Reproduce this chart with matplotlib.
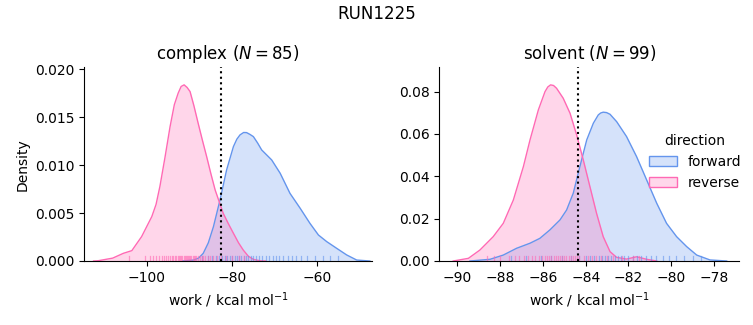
import numpy as np
import matplotlib
matplotlib.use("Agg")
import matplotlib.pyplot as plt
from matplotlib.patches import Patch

# ---- data ----
# complex panel, KDE curves (x in kcal/mol, density)
cx_rev_x = [-112.5, -111.4, -108.0, -105.5, -103.5, -101.2, -98.8, -97.8, -96.9, -95.7, -94.5, -93.5,
            -92.6, -91.9, -91.2, -90.5, -89.8, -88.9, -87.9, -86.9, -85.9, -84.9, -83.9, -82.0,
            -80.8, -79.6, -78.4, -77.3, -76.1, -74.9, -73.3, -72.0]
cx_rev_y = [0.0, 0.00003, 0.0003, 0.0008, 0.00108, 0.00254, 0.00463, 0.0059, 0.00776, 0.0108, 0.01402, 0.0163,
            0.0175, 0.0182, 0.01837, 0.0181, 0.01767, 0.0162, 0.01437, 0.0126, 0.01089, 0.0091, 0.00741, 0.00497,
            0.0039, 0.00289, 0.0019, 0.00115, 0.0005, 0.00017, 0.00002, 0.0]
cx_fwd_x = [-91.5, -89.0, -87.8, -86.7, -85.5, -84.3, -82.75, -81.2, -79.6, -78.8, -78.05, -77.2, -76.5,
            -75.7, -74.9, -73.9, -72.95, -70.6, -68.6, -66.3, -63.9, -61.6, -59.6, -57.65, -55.3,
            -52.95, -50.6, -47.5]
cx_fwd_y = [0.0, 0.0001, 0.0003, 0.0008, 0.0019, 0.00358, 0.00637, 0.0095, 0.01193, 0.0127, 0.01315, 0.0134, 0.01339,
            0.0132, 0.01297, 0.0123, 0.01158, 0.01054, 0.00915, 0.00706, 0.0055, 0.00393, 0.00271,
            0.00202, 0.00132, 0.00063, 0.0001, 0.0]
# solvent panel
sv_rev_x = [-90.19, -89.48, -88.94, -88.32, -87.85, -87.38, -86.91, -86.60, -86.21, -85.90, -85.77, -85.64,
            -85.50, -85.36, -85.05, -84.73, -84.42, -84.11, -83.80, -83.49, -83.18, -82.86, -82.55, -82.09,
            -81.62, -81.15, -80.68]
sv_rev_y = [0.0, 0.00126, 0.0052, 0.0115, 0.0178, 0.0288, 0.0446, 0.0572, 0.0714, 0.0800, 0.0822, 0.0832,
            0.0829, 0.0816, 0.0769, 0.0698, 0.0595, 0.0477, 0.0351, 0.0225, 0.0115, 0.0044, 0.0017, 0.0009,
            0.0020, 0.0008, 0.0]
sv_fwd_x = [-89.41, -88.47, -87.85, -87.23, -86.60, -86.14, -85.67, -85.20, -84.89, -84.58, -84.27,
            -83.95, -83.64, -83.41, -83.30, -83.18, -83.02, -82.86, -82.55, -82.09, -81.62, -81.15, -80.68,
            -80.22, -79.75, -79.28, -78.81, -78.19, -77.41]
sv_fwd_y = [0.0, 0.0008, 0.0028, 0.0060, 0.0084, 0.0107, 0.0147, 0.0194, 0.0241, 0.0320, 0.0446,
            0.0572, 0.0651, 0.0690, 0.0699, 0.0703, 0.0701, 0.0693, 0.0658, 0.0588, 0.0493, 0.0383,
            0.0273, 0.0178, 0.0115, 0.0068, 0.0028, 0.0005, 0.0]

# rug (individual work values, estimated)
cx_rev_rug = [-104.2, -100.5, -99.3, -98.6, -97.9, -97.2, -96.5, -96.0, -95.4, -94.9, -94.5, -94.1,
              -93.7, -93.4, -93.0, -92.7, -92.4, -92.1, -91.9, -91.6, -91.3, -91.1, -90.8, -90.6,
              -90.3, -90.1, -89.8, -89.5, -89.2, -88.9, -88.6, -88.3, -87.9, -87.5, -87.1, -86.7,
              -86.2, -85.6, -85.0, -84.3, -83.5, -82.6, -81.4, -80.0, -78.3, -77.0]
cx_fwd_rug = [-86.9, -85.5, -84.6, -83.8, -83.0, -82.2, -81.6, -81.0, -80.4, -79.9, -79.3, -78.8,
              -78.3, -77.8, -77.2, -76.7, -76.1, -75.5, -74.9, -74.2, -73.5, -72.8, -72.0, -71.2,
              -70.4, -69.6, -68.8, -67.9, -66.8, -65.9, -64.8, -63.6, -62.4, -60.5, -58.6, -56.9, -55.0]
sv_rev_rug = [-88.6, -88.3, -88.0, -87.6, -87.3, -87.1, -86.9, -86.7, -86.5, -86.35, -86.2, -86.05,
              -85.9, -85.8, -85.7, -85.6, -85.5, -85.4, -85.3, -85.2, -85.1, -85.0, -84.9, -84.8,
              -84.7, -84.6, -84.5, -84.4, -84.3, -84.1, -83.9, -83.7, -83.5, -83.3, -83.0, -82.7,
              -82.3, -81.8, -81.5]
sv_fwd_rug = [-87.5, -86.8, -86.1, -85.6, -85.1, -84.7, -84.3, -84.0, -83.8, -83.6, -83.4, -83.25,
              -83.1, -82.95, -82.8, -82.65, -82.5, -82.35, -82.2, -82.0, -81.8, -81.6, -81.4,
              -81.2, -80.95, -80.7, -80.4, -80.1, -79.8, -79.4, -79.0, -78.6]

cx_zero = -82.52
sv_zero = -84.37

fwd_color = "#6495ED"
rev_color = "#FF69B4"

fig = plt.figure(figsize=(7.53, 3.25), dpi=100)
ax1 = fig.add_axes([84/753, 1-261/325, (372-84)/753, (261-67.3)/325])
ax2 = fig.add_axes([439.3/753, 1-261/325, (739.3-439.3)/753, (261-67.3)/325])

def panel(ax, fx, fy, rx, ry, frug, rrug, zero):
    ax.fill_between(fx, fy, color=fwd_color, alpha=0.27, linewidth=0)
    ax.plot(fx, fy, color=fwd_color, lw=1.0, solid_joinstyle="round")
    ax.fill_between(rx, ry, color=rev_color, alpha=0.27, linewidth=0)
    ax.plot(rx, ry, color=rev_color, lw=1.0, solid_joinstyle="round")
    trans = ax.get_xaxis_transform()
    for v in frug:
        ax.plot([v, v], [0, 0.025], color=fwd_color, lw=0.9, alpha=0.6, transform=trans)
    for v in rrug:
        ax.plot([v, v], [0, 0.025], color=rev_color, lw=0.9, alpha=0.6, transform=trans)
    ax.axvline(zero, color="black", ls=":", lw=1.5)
    for s in ["top", "right"]:
        ax.spines[s].set_visible(False)
    ax.set_xlabel("work / kcal mol$^{-1}$")

panel(ax1, cx_fwd_x, cx_fwd_y, cx_rev_x, cx_rev_y, cx_fwd_rug, cx_rev_rug, cx_zero)
panel(ax2, sv_fwd_x, sv_fwd_y, sv_rev_x, sv_rev_y, sv_fwd_rug, sv_rev_rug, sv_zero)

ax1.set_xlim(-114.75, -47.0)
ax1.set_ylim(0, 0.0202)
ax1.set_xticks([-100, -80, -60])
ax1.set_yticks([0.0, 0.005, 0.010, 0.015, 0.020])
ax1.set_yticklabels(["0.000", "0.005", "0.010", "0.015", "0.020"])
ax1.set_ylabel("Density")
ax1.set_title("complex ($N = 85$)", fontsize=12)

ax2.set_xlim(-90.84, -76.82)
ax2.set_ylim(0, 0.0915)
ax2.set_xticks([-90, -88, -86, -84, -82, -80, -78])
ax2.set_yticks([0.0, 0.02, 0.04, 0.06, 0.08])
ax2.set_yticklabels(["0.00", "0.02", "0.04", "0.06", "0.08"])
ax2.set_title("solvent ($N = 99$)", fontsize=12)

handles = [Patch(facecolor=fwd_color + "44", edgecolor=fwd_color, lw=1.0),
           Patch(facecolor=rev_color + "44", edgecolor=rev_color, lw=1.0)]
ax2.legend(handles, ["forward", "reverse"], title="direction", frameon=False,
           loc="center left", bbox_to_anchor=(0.68, 0.51), handlelength=2.0,
           borderaxespad=0, fontsize=10, title_fontsize=10)

fig.suptitle("RUN1225", y=0.985, fontsize=12)
fig.savefig("out.png", dpi=100)
